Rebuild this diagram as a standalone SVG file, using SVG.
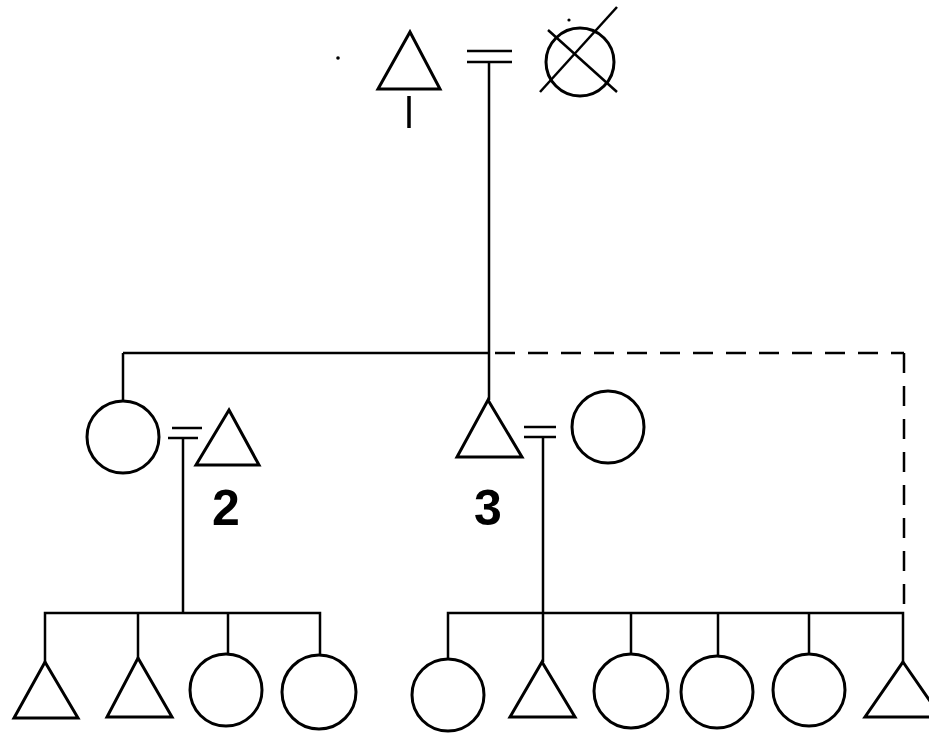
<svg xmlns="http://www.w3.org/2000/svg" width="929" height="733" viewBox="0 0 929 733">
  <style>
    .sym { fill: none; stroke: #000; stroke-width: 3; stroke-linejoin: miter; }
    .ln { fill: none; stroke: #000; stroke-width: 2.5; }
    .dash { fill: none; stroke: #000; stroke-width: 2.5; stroke-dasharray: 20 13; }
    .num { font-family: "Liberation Sans", Arial, sans-serif; font-weight: bold; font-size: 50px; fill: #000; }
  </style>
  <rect width="929" height="733" fill="#fff"/>

  <!-- connectors -->
  <g id="connectors">
    <!-- top marriage -->
    <line class="ln" x1="467" y1="51" x2="512" y2="51"/>
    <line class="ln" x1="467" y1="62" x2="512" y2="62"/>
    <line class="ln" x1="489" y1="62" x2="489" y2="400"/>
    <!-- sibling line (solid and dashed) -->
    <line class="ln" x1="123" y1="353" x2="489" y2="353"/>
    <line class="dash" x1="495" y1="353" x2="904" y2="353"/>
    <line class="dash" x1="904" y1="353" x2="904" y2="612"/>
    <line class="ln" x1="123" y1="353" x2="123" y2="400"/>
    <!-- ego's arrow -->
    <line x1="409" y1="96" x2="409" y2="128" stroke="#000" stroke-width="3.5"/>
    <!-- left marriage -->
    <line class="ln" x1="172" y1="428" x2="202" y2="428"/>
    <line class="ln" x1="168" y1="438" x2="198" y2="438"/>
    <line class="ln" x1="183" y1="438" x2="183" y2="613"/>
    <!-- left children -->
    <polyline class="ln" points="45,662 45,613 320,613 320,655"/>
    <line class="ln" x1="138" y1="613" x2="138" y2="658"/>
    <line class="ln" x1="228" y1="613" x2="228" y2="654"/>
    <!-- right marriage -->
    <line class="ln" x1="524" y1="427" x2="556" y2="427"/>
    <line class="ln" x1="524" y1="437" x2="556" y2="437"/>
    <line class="ln" x1="543" y1="437" x2="543" y2="662"/>
    <!-- right children -->
    <polyline class="ln" points="448,659 448,613 903,613 903,662"/>
    <line class="ln" x1="631" y1="613" x2="631" y2="654"/>
    <line class="ln" x1="718" y1="613" x2="718" y2="656"/>
    <line class="ln" x1="809" y1="613" x2="809" y2="654"/>
  </g>

  <!-- first generation -->
  <g id="ego-father">
    <polygon class="sym" points="410,32 440,89 378,89"/>
  </g>
  <g id="ego-mother-deceased">
    <circle class="sym" cx="580" cy="62" r="34"/>
    <line class="ln" x1="540" y1="92" x2="617" y2="7" stroke-width="3"/>
    <line class="ln" x1="548" y1="30" x2="617" y2="92" stroke-width="3"/>
    <circle cx="569" cy="20" r="1.6" fill="#000"/>
  </g>
  <circle cx="338" cy="58" r="1.8" fill="#000"/>

  <!-- second generation -->
  <g id="sister">
    <circle class="sym" cx="123" cy="437" r="36"/>
  </g>
  <g id="sister-husband">
    <polygon class="sym" points="229,410 259,465 196,465"/>
  </g>
  <g id="brother">
    <polygon class="sym" points="488,400 522,457 457,457"/>
  </g>
  <g id="brother-wife">
    <circle class="sym" cx="608" cy="427" r="36"/>
  </g>

  <!-- family numbers -->
  <text class="num" x="212" y="525">2</text>
  <text class="num" x="474" y="525">3</text>

  <!-- children of family 2 -->
  <g id="c2-1"><polygon class="sym" points="45,662 78,718 14,718"/></g>
  <g id="c2-2"><polygon class="sym" points="138,658 172,717 107,717"/></g>
  <g id="c2-3"><circle class="sym" cx="226" cy="690" r="36"/></g>
  <g id="c2-4"><circle class="sym" cx="319" cy="692" r="37"/></g>

  <!-- children of family 3 -->
  <g id="c3-1"><circle class="sym" cx="448" cy="695" r="36"/></g>
  <g id="c3-2"><polygon class="sym" points="542,662 575,717 510,717"/></g>
  <g id="c3-3"><circle class="sym" cx="631" cy="691" r="37"/></g>
  <g id="c3-4"><circle class="sym" cx="717" cy="692" r="36"/></g>
  <g id="c3-5"><circle class="sym" cx="809" cy="690" r="36"/></g>
  <g id="c3-6"><polygon class="sym" points="903,662 941,717 865,717"/></g>
</svg>
